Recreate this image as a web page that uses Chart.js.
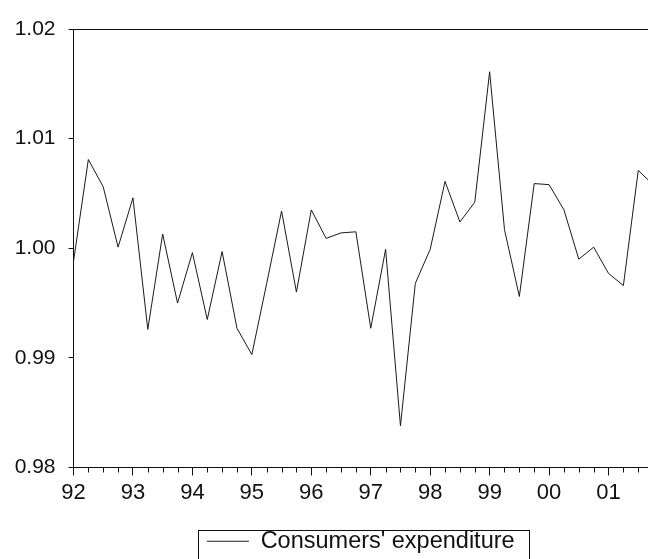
<!DOCTYPE html>
<html>
<head>
<meta charset="utf-8">
<script src="https://cdn.jsdelivr.net/npm/chart.js@4/dist/chart.umd.min.js"></script>
<style>
  html, body { margin: 0; padding: 0; background: #fff; }
</style>
</head>
<body>
<canvas id="grafico" width="648" height="559"></canvas>
<script>
// quarters, 1992Q1 .. 2001Q4 (last one sits just past the right edge)
const trimestres = [
  '92Q1','92Q2','92Q3','92Q4','93Q1','93Q2','93Q3','93Q4',
  '94Q1','94Q2','94Q3','94Q4','95Q1','95Q2','95Q3','95Q4',
  '96Q1','96Q2','96Q3','96Q4','97Q1','97Q2','97Q3','97Q4',
  '98Q1','98Q2','98Q3','98Q4','99Q1','99Q2','99Q3','99Q4',
  '00Q1','00Q2','00Q3','00Q4','01Q1','01Q2','01Q3','01Q4'
];
const gastoConsumo = [
  0.9988, 1.0081, 1.0056, 1.0001, 1.0046, 0.9926, 1.0013, 0.9950,
  0.9996, 0.9935, 0.9997, 0.9927, 0.9903, 0.9968, 1.0034, 0.9960,
  1.0035, 1.0009, 1.0014, 1.0015, 0.9927, 0.9999, 0.9838, 0.9968,
  0.9999, 1.0061, 1.0024, 1.0042, 1.0161, 1.0017, 0.9956, 1.0059,
  1.0058, 1.0035, 0.9990, 1.0001, 0.9977, 0.9966, 1.0071, 1.0058
];
const ticksY = [0.98, 0.99, 1.00, 1.01, 1.02];
const nombreSerie = "Consumers' expenditure";

// "92Q3" -> 1992.5
function fechaDecimal(t) {
  let yy = parseInt(t.substring(0, 2));
  let anio = yy > 50 ? 1900 + yy : 2000 + yy;
  let q = parseInt(t.substring(3));
  return anio + (q - 1) / 4;
}

const puntos = trimestres.map((t, i) => ({ x: fechaDecimal(t), y: gastoConsumo[i] }));

const fuente = "'Liberation Sans', Arial, sans-serif";

// ticks chicos de trimestre + recuadro de la leyenda
const extras = {
  id: 'extras',
  afterDraw(chart) {
    const ctx = chart.ctx;
    const x = chart.scales.x;
    const area = chart.chartArea;
    ctx.save();
    ctx.strokeStyle = '#111';
    ctx.lineWidth = 1;
    ctx.beginPath();
    for (let v = 1992.25; v < x.max; v += 0.25) {
      if (Math.abs(v - Math.round(v)) < 0.01) continue;
      let px = Math.round(x.getPixelForValue(v)) + 0.5;
      ctx.moveTo(px, area.bottom);
      ctx.lineTo(px, area.bottom + 5);
    }
    ctx.stroke();

    const hb = chart.legend.legendHitBoxes[0];
    if (hb) {
      ctx.strokeRect(Math.round(hb.left - 9) + 0.5, Math.round(hb.top) + 0.5, Math.round(hb.width + 23), 60);
    }
    ctx.restore();
  }
};

const ctx = document.getElementById('grafico');
const grafico = new Chart(ctx, {
  type: 'line',
  data: {
    datasets: [{
      label: nombreSerie,
      data: puntos,
      borderColor: '#1a1a1a',
      borderWidth: 1,
      pointRadius: 0,
      tension: 0,
      fill: false
    }]
  },
  options: {
    responsive: false,
    animation: false,
    devicePixelRatio: 1,
    layout: { padding: { top: 29, left: 0, right: 0, bottom: -4 } },
    scales: {
      x: {
        type: 'linear',
        min: 1992,
        max: 2001.664,
        afterFit: function (s) { s.height = 52; },
        border: { display: true, color: '#111', width: 1 },
        grid: { drawOnChartArea: false, tickLength: 8, tickColor: '#111' },
        ticks: {
          stepSize: 1,
          includeBounds: false,
          padding: 4,
          color: '#111',
          font: { family: fuente, size: 22 },
          maxRotation: 0,
          autoSkip: false,
          callback: v => String(Math.round(v) % 100).padStart(2, '0')
        }
      },
      y: {
        min: ticksY[0],
        max: ticksY[ticksY.length - 1],
        afterFit: function (s) { s.width = 73.5; },
        afterBuildTicks: function (s) { s.ticks = ticksY.map(v => ({ value: v })); },
        border: { display: true, color: '#111', width: 1 },
        grid: {
          tickLength: 5,
          tickColor: '#111',
          color: c => (c.tick && c.tick.value === ticksY[ticksY.length - 1]) ? '#111' : 'rgba(0,0,0,0)'
        },
        ticks: {
          padding: 13,
          color: '#111',
          font: { family: fuente, size: 21 },
          callback: v => Number(v).toFixed(2)
        }
      }
    },
    plugins: {
      tooltip: { enabled: false },
      legend: {
        display: true,
        position: 'bottom',
        fullSize: false,
        labels: {
          usePointStyle: true,
          pointStyle: 'line',
          pointStyleWidth: 42,
          padding: 10,
          color: '#111',
          font: { family: fuente, size: 23.5 }
        }
      }
    }
  },
  plugins: [extras]
});
</script>
</body>
</html>
